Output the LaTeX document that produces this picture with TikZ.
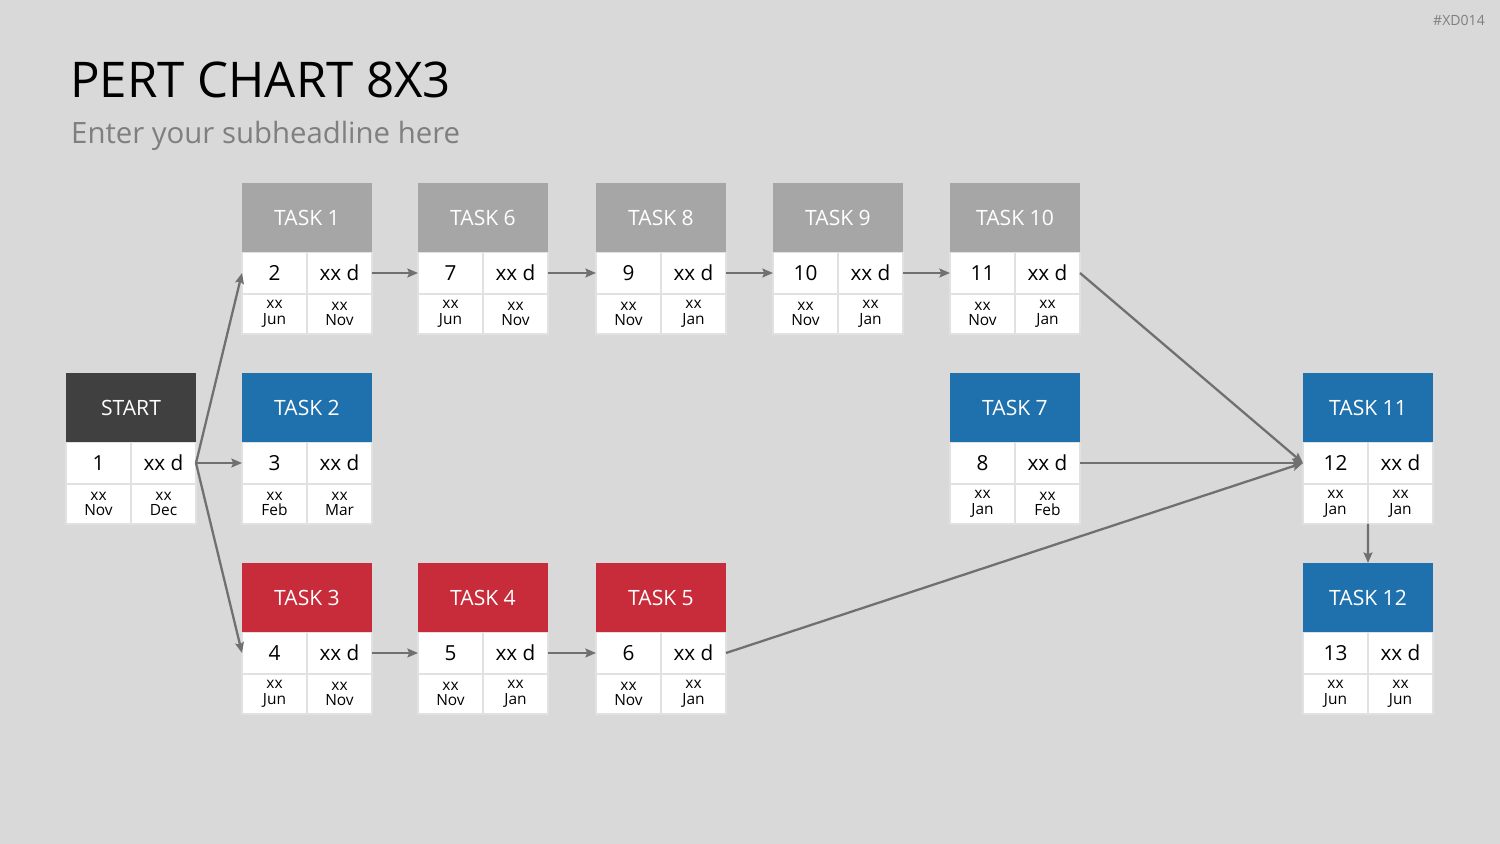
\documentclass[tikz,border=0pt]{standalone}
\usepackage{fontspec}
\setmainfont{Open Sans}
\usepackage{tikz}
\usetikzlibrary{arrows.meta,positioning}

\definecolor{bggrey}{HTML}{D9D9D9}
\definecolor{headgrey}{HTML}{A6A6A6}
\definecolor{headdark}{HTML}{404040}
\definecolor{headblue}{HTML}{1F71AD}
\definecolor{headred}{HTML}{C82C3B}
\definecolor{linegrey}{HTML}{707070}
\definecolor{subgrey}{HTML}{7F7F7F}

\begin{document}
\begin{tikzpicture}[
  x=0.02cm, y=-0.02cm,
  arrow/.style={-{Stealth[length=6pt,width=5pt,inset=1pt]}, line width=1.3pt, linegrey},
  head/.style={minimum width=2.6cm, minimum height=1.4cm, inner sep=0pt, outer sep=0pt,
               text=white, font=\fontsize{12}{14}\selectfont},
  cell/.style={draw=bggrey!80!white, line width=0.8pt, fill=white, inner sep=0pt, outer sep=0pt,
               minimum width=1.3cm, minimum height=0.82cm, font=\fontsize{11.8}{14}\selectfont},
  datecell/.style={cell, minimum height=0.8cm, align=center, font=\fontsize{8.8}{9}\selectfont},
]
  \fill[bggrey] (0,0) rectangle (1500,844);
  \useasboundingbox (0,0) rectangle (1500,844);

  \node[anchor=base west, font=\fontsize{28}{32}\selectfont] (title) at (64,98) {PERT CHART 8X3};
  \node[anchor=base west, subgrey, font=\fontsize{16.7}{20}\selectfont] (sub) at (65,144) {Enter your subheadline here};
  \node[subgrey, font=\fontsize{8}{9}\selectfont] (tag) at (1459,20) {\#XD014};

  % task boxes: name / left / top / title / colour / number / start / end
  \foreach \n/\x/\y/\t/\c/\k/\s/\e in {
      s/66/372/START/headdark/1/Nov/Dec,
      t1/242/182/TASK 1/headgrey/2/Jun/Nov,
      t6/418/182/TASK 6/headgrey/7/Jun/Nov,
      t8/596/182/TASK 8/headgrey/9/Nov/Jan,
      t9/773/182/TASK 9/headgrey/10/Nov/Jan,
      t10/950/182/TASK 10/headgrey/11/Nov/Jan,
      t2/242/372/TASK 2/headblue/3/Feb/Mar,
      t7/950/372/TASK 7/headblue/8/Jan/Feb,
      t11/1303/372/TASK 11/headblue/12/Jan/Jan,
      t3/242/562/TASK 3/headred/4/Jun/Nov,
      t4/418/562/TASK 4/headred/5/Nov/Jan,
      t5/596/562/TASK 5/headred/6/Nov/Jan,
      t12/1303/562/TASK 12/headblue/13/Jun/Jun} {
    \node[head, fill=\c] (\n) at (\x+65, \y+36) {\t};
    \node[cell] (\n-num) at (\x+32.5, \y+91) {\k};
    \node[cell] (\n-dur) at (\x+97.5, \y+91) {xx d};
    \node[datecell] (\n-beg) at (\x+32.5, \y+132) {xx\\\s};
    \node[datecell] (\n-end) at (\x+97.5, \y+132) {xx\\\e};
  }

  \draw[arrow] (s-dur.east) -- (t1-num.west);
  \draw[arrow] (s-dur.east) -- (t2-num.west);
  \draw[arrow] (s-dur.east) -- (t3-num.west);
  \draw[arrow] (t1-dur.east) -- (t6-num.west);
  \draw[arrow] (t6-dur.east) -- (t8-num.west);
  \draw[arrow] (t8-dur.east) -- (t9-num.west);
  \draw[arrow] (t9-dur.east) -- (t10-num.west);
  \draw[arrow] (t3-dur.east) -- (t4-num.west);
  \draw[arrow] (t4-dur.east) -- (t5-num.west);
  \draw[arrow] (t10-dur.east) -- (t11-num.west);
  \draw[arrow] (t7-dur.east) -- (t11-num.west);
  \draw[arrow] (t5-dur.east) -- (t11-num.west);
  \draw[arrow] (t11-beg.south east) -- (t12.north);
\end{tikzpicture}
\end{document}
